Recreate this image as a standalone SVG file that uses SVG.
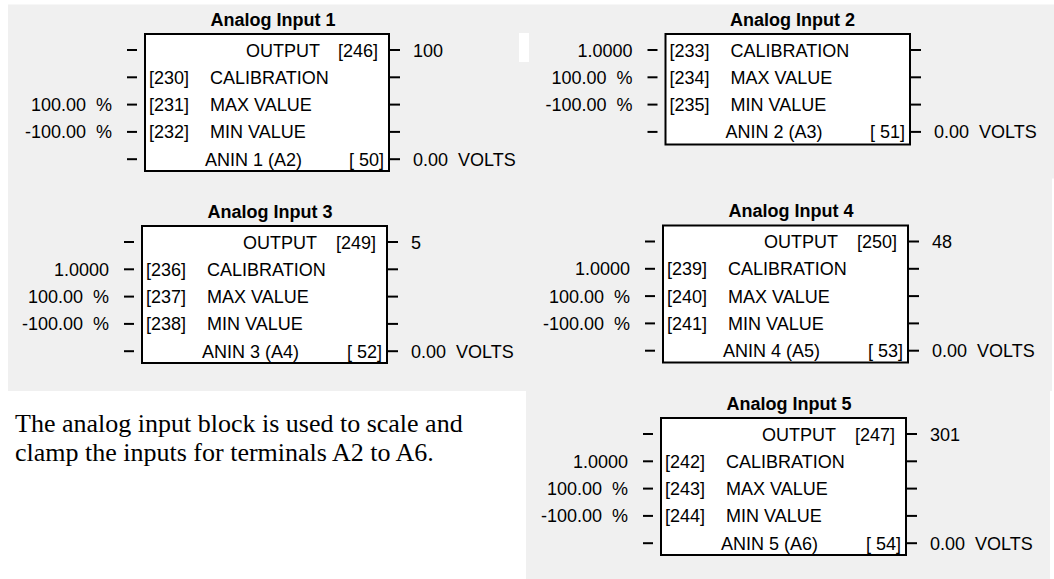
<svg xmlns="http://www.w3.org/2000/svg" width="1054" height="579" viewBox="0 0 1054 579">
<style>
.bg{fill:#f0f0f0}
.box{fill:#fff;stroke:#000;stroke-width:2}
.t{font-family:"Liberation Sans",Arial,sans-serif;font-size:18px;fill:#000;white-space:pre}
.ttl{font-weight:bold}
.e{text-anchor:end}
.tk{stroke:#000;stroke-width:2}
.para{font-family:"Liberation Serif","Times New Roman",serif;font-size:26px;fill:#000}
</style>
<rect width="1054" height="579" fill="#fff"/>
<g id="background">
<rect class="bg" x="8" y="4.5" width="1046" height="174"/>
<rect class="bg" x="8" y="178" width="1044" height="213"/>
<rect class="bg" x="526" y="391" width="524" height="188"/>
<rect x="519" y="33" width="10" height="29" fill="#fff"/>
</g>
<g id="connectors">
<!-- box1 left -->
<line class="tk" x1="127" y1="50" x2="137" y2="50"/>
<line class="tk" x1="127" y1="77.3" x2="137" y2="77.3"/>
<line class="tk" x1="127" y1="104.6" x2="137" y2="104.6"/>
<line class="tk" x1="127" y1="131.9" x2="137" y2="131.9"/>
<line class="tk" x1="127" y1="159.2" x2="137" y2="159.2"/>
<!-- box1 right -->
<line class="tk" x1="389" y1="50" x2="400" y2="50"/>
<line class="tk" x1="389" y1="77.3" x2="400" y2="77.3"/>
<line class="tk" x1="389" y1="104.6" x2="400" y2="104.6"/>
<line class="tk" x1="389" y1="131.9" x2="400" y2="131.9"/>
<line class="tk" x1="389" y1="159.2" x2="400" y2="159.2"/>
<!-- box2 left -->
<line class="tk" x1="647.5" y1="50" x2="657.5" y2="50"/>
<line class="tk" x1="647.5" y1="77.3" x2="657.5" y2="77.3"/>
<line class="tk" x1="647.5" y1="104.6" x2="657.5" y2="104.6"/>
<line class="tk" x1="647.5" y1="131.9" x2="657.5" y2="131.9"/>
<!-- box2 right -->
<line class="tk" x1="910" y1="50" x2="921" y2="50"/>
<line class="tk" x1="910" y1="77.3" x2="921" y2="77.3"/>
<line class="tk" x1="910" y1="104.6" x2="921" y2="104.6"/>
<line class="tk" x1="910" y1="131.9" x2="921" y2="131.9"/>
<!-- box3 left -->
<line class="tk" x1="124" y1="242" x2="134" y2="242"/>
<line class="tk" x1="124" y1="269.3" x2="134" y2="269.3"/>
<line class="tk" x1="124" y1="296.6" x2="134" y2="296.6"/>
<line class="tk" x1="124" y1="323.9" x2="134" y2="323.9"/>
<line class="tk" x1="124" y1="351.2" x2="134" y2="351.2"/>
<!-- box3 right -->
<line class="tk" x1="387" y1="242" x2="398" y2="242"/>
<line class="tk" x1="387" y1="269.3" x2="398" y2="269.3"/>
<line class="tk" x1="387" y1="296.6" x2="398" y2="296.6"/>
<line class="tk" x1="387" y1="323.9" x2="398" y2="323.9"/>
<line class="tk" x1="387" y1="351.2" x2="398" y2="351.2"/>
<!-- box4 left -->
<line class="tk" x1="645" y1="241.5" x2="655" y2="241.5"/>
<line class="tk" x1="645" y1="268.8" x2="655" y2="268.8"/>
<line class="tk" x1="645" y1="296.1" x2="655" y2="296.1"/>
<line class="tk" x1="645" y1="323.4" x2="655" y2="323.4"/>
<line class="tk" x1="645" y1="350.7" x2="655" y2="350.7"/>
<!-- box4 right -->
<line class="tk" x1="908" y1="241.5" x2="919" y2="241.5"/>
<line class="tk" x1="908" y1="268.8" x2="919" y2="268.8"/>
<line class="tk" x1="908" y1="296.1" x2="919" y2="296.1"/>
<line class="tk" x1="908" y1="323.4" x2="919" y2="323.4"/>
<line class="tk" x1="908" y1="350.7" x2="919" y2="350.7"/>
<!-- box5 left -->
<line class="tk" x1="643" y1="434" x2="653" y2="434"/>
<line class="tk" x1="643" y1="461.3" x2="653" y2="461.3"/>
<line class="tk" x1="643" y1="488.6" x2="653" y2="488.6"/>
<line class="tk" x1="643" y1="515.9" x2="653" y2="515.9"/>
<line class="tk" x1="643" y1="543.2" x2="653" y2="543.2"/>
<!-- box5 right -->
<line class="tk" x1="906" y1="434" x2="917" y2="434"/>
<line class="tk" x1="906" y1="461.3" x2="917" y2="461.3"/>
<line class="tk" x1="906" y1="488.6" x2="917" y2="488.6"/>
<line class="tk" x1="906" y1="515.9" x2="917" y2="515.9"/>
<line class="tk" x1="906" y1="543.2" x2="917" y2="543.2"/>
</g>
<g id="analog-input-1">
<text class="t ttl" x="210.5" y="25.5">Analog Input 1</text>
<rect class="box" x="145" y="34" width="244" height="137"/>
<text class="t" x="246" y="56.5">OUTPUT</text>
<text class="t e" x="378" y="56.5">[246]</text>
<text class="t" x="149" y="83.8">[230]</text>
<text class="t" x="210" y="83.8">CALIBRATION</text>
<text class="t" x="149" y="111.1">[231]</text>
<text class="t" x="210" y="111.1">MAX VALUE</text>
<text class="t" x="149" y="138.4">[232]</text>
<text class="t" x="210" y="138.4">MIN VALUE</text>
<text class="t" x="205" y="165.7">ANIN 1 (A2)</text>
<text class="t e" x="384" y="165.7">[ 50]</text>
<text class="t e" x="112" y="111.1" xml:space="preserve">100.00  %</text>
<text class="t e" x="112" y="138.4" xml:space="preserve">-100.00  %</text>
<text class="t" x="413" y="56.5">100</text>
<text class="t" x="413" y="165.7" xml:space="preserve">0.00  VOLTS</text>
</g>
<g id="analog-input-2">
<text class="t ttl" x="730" y="25.5">Analog Input 2</text>
<rect class="box" x="665.5" y="34" width="244.5" height="110.5"/>
<text class="t" x="669.5" y="56.5">[233]</text>
<text class="t" x="730.5" y="56.5">CALIBRATION</text>
<text class="t" x="669.5" y="83.8">[234]</text>
<text class="t" x="730.5" y="83.8">MAX VALUE</text>
<text class="t" x="669.5" y="111.1">[235]</text>
<text class="t" x="730.5" y="111.1">MIN VALUE</text>
<text class="t" x="725.5" y="138.4">ANIN 2 (A3)</text>
<text class="t e" x="905" y="138.4">[ 51]</text>
<text class="t e" x="632.5" y="56.5">1.0000</text>
<text class="t e" x="632.5" y="83.8" xml:space="preserve">100.00  %</text>
<text class="t e" x="632.5" y="111.1" xml:space="preserve">-100.00  %</text>
<text class="t" x="934" y="138.4" xml:space="preserve">0.00  VOLTS</text>
</g>
<g id="analog-input-3">
<text class="t ttl" x="207.5" y="217.5">Analog Input 3</text>
<rect class="box" x="142" y="226" width="245" height="137"/>
<text class="t" x="243" y="248.5">OUTPUT</text>
<text class="t e" x="376" y="248.5">[249]</text>
<text class="t" x="146" y="275.8">[236]</text>
<text class="t" x="207" y="275.8">CALIBRATION</text>
<text class="t" x="146" y="303.1">[237]</text>
<text class="t" x="207" y="303.1">MAX VALUE</text>
<text class="t" x="146" y="330.4">[238]</text>
<text class="t" x="207" y="330.4">MIN VALUE</text>
<text class="t" x="202" y="357.7">ANIN 3 (A4)</text>
<text class="t e" x="382" y="357.7">[ 52]</text>
<text class="t e" x="109" y="275.8">1.0000</text>
<text class="t e" x="109" y="303.1" xml:space="preserve">100.00  %</text>
<text class="t e" x="109" y="330.4" xml:space="preserve">-100.00  %</text>
<text class="t" x="411" y="248.5">5</text>
<text class="t" x="411" y="357.7" xml:space="preserve">0.00  VOLTS</text>
</g>
<g id="analog-input-4">
<text class="t ttl" x="728.5" y="217">Analog Input 4</text>
<rect class="box" x="663" y="225.5" width="245" height="137"/>
<text class="t" x="764" y="248">OUTPUT</text>
<text class="t e" x="897" y="248">[250]</text>
<text class="t" x="667" y="275.3">[239]</text>
<text class="t" x="728" y="275.3">CALIBRATION</text>
<text class="t" x="667" y="302.6">[240]</text>
<text class="t" x="728" y="302.6">MAX VALUE</text>
<text class="t" x="667" y="329.9">[241]</text>
<text class="t" x="728" y="329.9">MIN VALUE</text>
<text class="t" x="723" y="357.2">ANIN 4 (A5)</text>
<text class="t e" x="903" y="357.2">[ 53]</text>
<text class="t e" x="630" y="275.3">1.0000</text>
<text class="t e" x="630" y="302.6" xml:space="preserve">100.00  %</text>
<text class="t e" x="630" y="329.9" xml:space="preserve">-100.00  %</text>
<text class="t" x="932" y="248">48</text>
<text class="t" x="932" y="357.2" xml:space="preserve">0.00  VOLTS</text>
</g>
<g id="analog-input-5">
<text class="t ttl" x="726.5" y="409.5">Analog Input 5</text>
<rect class="box" x="661" y="418" width="245" height="137"/>
<text class="t" x="762" y="440.5">OUTPUT</text>
<text class="t e" x="895" y="440.5">[247]</text>
<text class="t" x="665" y="467.8">[242]</text>
<text class="t" x="726" y="467.8">CALIBRATION</text>
<text class="t" x="665" y="495.1">[243]</text>
<text class="t" x="726" y="495.1">MAX VALUE</text>
<text class="t" x="665" y="522.4">[244]</text>
<text class="t" x="726" y="522.4">MIN VALUE</text>
<text class="t" x="721" y="549.7">ANIN 5 (A6)</text>
<text class="t e" x="901" y="549.7">[ 54]</text>
<text class="t e" x="628" y="467.8">1.0000</text>
<text class="t e" x="628" y="495.1" xml:space="preserve">100.00  %</text>
<text class="t e" x="628" y="522.4" xml:space="preserve">-100.00  %</text>
<text class="t" x="930" y="440.5">301</text>
<text class="t" x="930" y="549.7" xml:space="preserve">0.00  VOLTS</text>
</g>
<g id="description">
<text class="para" x="15" y="432">The analog input block is used to scale and</text>
<text class="para" x="15" y="461">clamp the inputs for terminals A2 to A6.</text>
</g>
</svg>
